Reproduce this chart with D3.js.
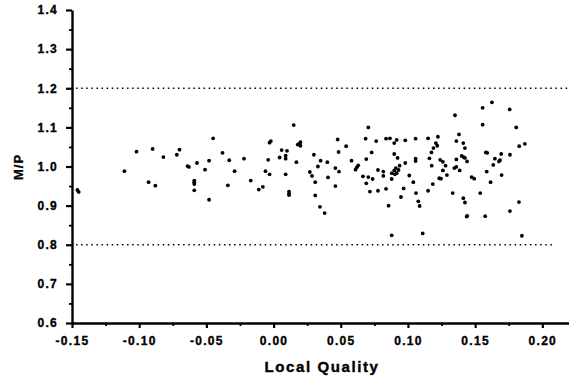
<!DOCTYPE html>
<html>
<head>
<meta charset="utf-8">
<script src="https://cdn.jsdelivr.net/npm/d3@7"></script>
<style>
  body { margin: 0; background: #fff; }
  svg { display: block; font-family: "Liberation Sans", Arial, sans-serif; }
  .tick text { font-weight: bold; font-size: 12px; letter-spacing: 1.3px; stroke: black; stroke-width: 0.35px; }
  .domain { stroke-width: 2.4px; }
</style>
</head>
<body>
<figure id="chart" style="margin:0"></figure>
<script>
// Local Quality (x) and M/P (y)
const quality = [
  -0.146, -0.145, -0.111, -0.102, -0.093, -0.090, -0.088, -0.082, -0.072, -0.070,
  -0.064, -0.063, -0.057, -0.059, -0.059, -0.059, -0.059, -0.051, -0.048, -0.048,
  -0.045, -0.038, -0.033, -0.034, -0.029, -0.022, -0.017, -0.011, -0.008, -0.006,
  -0.003, -0.004, -0.003, -0.002, 0.0045, 0.006, 0.009, 0.009, 0.010, 0.009,
  0.0115, 0.0115, 0.0115, 0.015, 0.017, 0.018, 0.019, 0.020, 0.020, 0.027,
  0.030, 0.0286, 0.033, 0.035, 0.031, 0.031, 0.0345, 0.038, 0.040, 0.0405,
  0.046, 0.0487, 0.046, 0.0477, 0.0484, 0.054, 0.058, 0.061, 0.062, 0.063,
  0.0665, 0.0685, 0.0705, 0.069, 0.0705, 0.069, 0.073, 0.0737, 0.0717, 0.0764,
  0.0777, 0.0777, 0.0817, 0.0817, 0.0837, 0.0856, 0.0837, 0.0866, 0.0898, 0.0916,
  0.0898, 0.0923, 0.0879, 0.088, 0.0898, 0.0916, 0.091, 0.093, 0.0938, 0.0903,
  0.0879, 0.0948, 0.0968, 0.098, 0.098, 0.101, 0.104, 0.1057, 0.1057, 0.1057,
  0.106, 0.1077, 0.1087, 0.111, 0.115, 0.116, 0.115, 0.1175, 0.1177, 0.1185,
  0.119, 0.1208, 0.1218, 0.1223, 0.1233, 0.1246, 0.124, 0.126, 0.128, 0.126,
  0.129, 0.1333, 0.135, 0.1345, 0.136, 0.136, 0.136, 0.138, 0.1385, 0.140,
  0.1414, 0.1424, 0.1412, 0.1424, 0.144, 0.1412, 0.1424, 0.1437, 0.1441, 0.1474,
  0.1493, 0.1538, 0.1556, 0.1625, 0.1556, 0.158, 0.159, 0.1586, 0.1575, 0.1615,
  0.1635, 0.1647, 0.1677, 0.1685, 0.1694, 0.1697, 0.1757, 0.1759, 0.1759, 0.1806,
  0.1828, 0.1826, 0.187, 0.1848
];
const ratio = [
  0.940, 0.935, 0.988, 1.038, 0.960, 1.045, 0.951, 1.024, 1.030, 1.043,
  1.001, 0.999, 1.009, 0.964, 0.960, 0.955, 0.939, 0.992, 1.015, 0.915,
  1.072, 1.035, 1.016, 0.952, 0.988, 1.020, 0.964, 0.941, 0.948, 0.988,
  0.980, 1.017, 1.061, 1.065, 1.023, 1.042, 1.028, 1.020, 1.040, 0.980,
  0.936, 0.930, 0.927, 1.106, 1.011, 1.056, 1.058, 1.062, 1.053, 0.986,
  1.030, 0.976, 1.000, 1.015, 0.960, 0.926, 0.897, 0.881, 1.011, 0.972,
  0.996, 0.987, 0.950, 1.069, 1.037, 1.052, 1.015, 0.992, 0.998, 1.003,
  0.975, 1.071, 1.100, 1.019, 0.973, 0.957, 1.036, 0.968, 0.936, 1.065,
  0.991, 0.938, 0.987, 0.976, 1.071, 0.900, 0.943, 1.072, 1.060, 1.068,
  1.032, 1.022, 0.968, 0.983, 0.990, 0.983, 0.996, 0.991, 1.002, 0.980,
  0.824, 0.922, 0.944, 1.009, 1.067, 0.977, 0.960, 1.071, 1.020, 1.014,
  0.932, 0.911, 0.899, 0.829, 1.072, 1.021, 0.938, 1.036, 1.002, 0.955,
  1.047, 1.060, 1.053, 1.076, 0.970, 0.969, 1.017, 1.012, 1.002, 0.990,
  0.978, 0.932, 1.131, 0.996, 0.999, 1.018, 1.065, 1.082, 0.990, 1.027,
  1.024, 1.022, 1.060, 1.047, 1.013, 0.919, 0.908, 0.872, 0.874, 0.973,
  0.969, 0.932, 1.150, 1.164, 1.107, 1.036, 1.035, 0.987, 0.873, 0.960,
  1.004, 1.020, 1.013, 1.016, 1.032, 0.978, 1.146, 1.030, 0.886, 1.100,
  1.052, 0.909, 1.058, 0.823
];
const xTicks = [-0.15, -0.10, -0.05, 0.00, 0.05, 0.10, 0.15, 0.20];
const xMinorTicks = [-0.125, -0.075, -0.025, 0.025, 0.075, 0.125, 0.175];
const yTicks = [0.6, 0.7, 0.8, 0.9, 1.0, 1.1, 1.2, 1.3, 1.4];
const yMinorTicks = [0.65, 0.75, 0.85, 0.95, 1.05, 1.15, 1.25, 1.35];
const limitLines = [1.2, 0.8];

const width = 569, height = 376;
const svg = d3.select('#chart').append('svg')
  .attr('width', width)
  .attr('height', height);

const x = d3.scaleLinear().domain([-0.15, 0.22]).range([72, 569.2]);
const y = d3.scaleLinear().domain([0.6, 1.4]).range([323, 10]);

// dotted limit lines
svg.selectAll('line.limit')
  .data(limitLines)
  .enter()
  .append('line')
  .attr('class', 'limit')
  .attr('x1', x(-0.147))
  .attr('x2', (d) => d > 1 ? x(0.22) : x(0.208))
  .attr('y1', (d) => y(d))
  .attr('y2', (d) => y(d))
  .attr('stroke', 'black')
  .attr('stroke-width', 1.6)
  .attr('stroke-dasharray', '1.5,3.6');

// points
svg.append('g')
  .selectAll('circle')
  .data(quality.map((q, i) => [q, ratio[i]]))
  .enter()
  .append('circle')
  .attr('cx', (d) => x(d[0]))
  .attr('cy', (d) => y(d[1]))
  .attr('r', 1.9)
  .attr('fill', 'black');

// x axis
svg.append('g')
  .attr('transform', 'translate(0,' + y(0.6) + ')')
  .call(d3.axisBottom(x).tickValues(xMinorTicks).tickSize(3).tickFormat(''))
  .call((g) => g.select('.domain').remove())
  .call((g) => g.selectAll('line').attr('stroke-width', 1.8));
svg.append('g')
  .attr('transform', 'translate(0,' + y(0.6) + ')')
  .call(d3.axisBottom(x).tickValues(xTicks).tickSize(5).tickSizeOuter(0).tickPadding(8)
    .tickFormat((d) => d3.format('.2f')(d).replace('−', '-')))
  .call((g) => g.selectAll('line').attr('stroke-width', 2.2))
  .call((g) => g.selectAll('text').attr('fill', 'black'));

// y axis
svg.append('g')
  .attr('transform', 'translate(' + x(-0.15) + ',0)')
  .call(d3.axisLeft(y).tickValues(yMinorTicks).tickSize(3).tickFormat(''))
  .call((g) => g.select('.domain').remove())
  .call((g) => g.selectAll('line').attr('stroke-width', 1.8));
svg.append('g')
  .attr('transform', 'translate(' + x(-0.15) + ',0)')
  .call(d3.axisLeft(y).tickValues(yTicks).tickSize(6).tickSizeOuter(0).tickPadding(8)
    .tickFormat(d3.format('.1f')))
  .call((g) => g.selectAll('line').attr('stroke-width', 2.2))
  .call((g) => g.selectAll('text').attr('fill', 'black'));

// axis titles
svg.append('text')
  .attr('x', 322)
  .attr('y', 372)
  .attr('text-anchor', 'middle')
  .style('font-weight', 'bold')
  .style('font-size', '15px')
  .style('letter-spacing', '1.6px')
  .style('stroke', 'black')
  .style('stroke-width', '0.4px')
  .text('Local Quality');

svg.append('text')
  .attr('transform', 'translate(23,167)rotate(-90)')
  .attr('text-anchor', 'middle')
  .style('font-weight', 'bold')
  .style('font-size', '13px')
  .style('letter-spacing', '1px')
  .style('stroke', 'black')
  .style('stroke-width', '0.3px')
  .text('M/P');
</script>
</body>
</html>
